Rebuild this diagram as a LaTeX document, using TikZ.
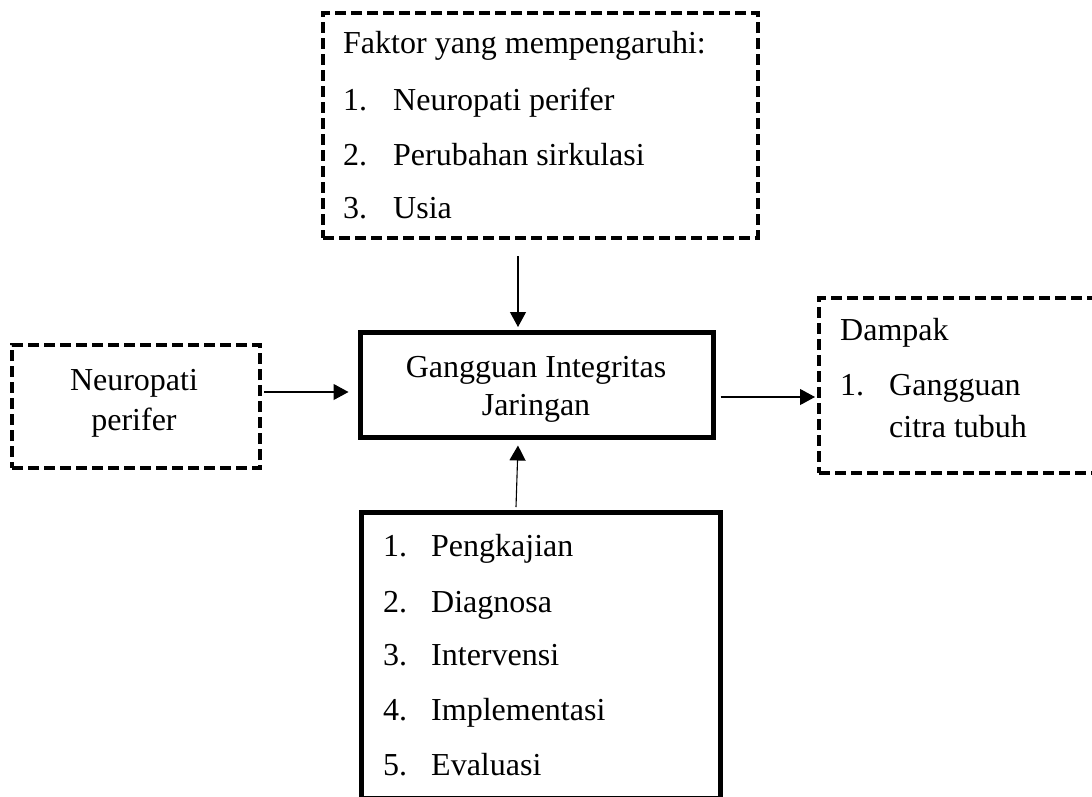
\documentclass[tikz,border=0pt]{standalone}
\usepackage{fontspec}
\setmainfont{Liberation Serif}
\usetikzlibrary{arrows.meta,calc}
\tikzset{
  dbox/.style={draw=black, line width=4pt, dash pattern=on 11pt off 5pt, rectangle, inner sep=0pt},
  sbox/.style={draw=black, line width=5pt, rectangle, inner sep=0pt},
  txt/.style={inner sep=0pt, anchor=base west, font=\fontsize{32}{40}\selectfont},
  ctxt/.style={inner sep=0pt, anchor=base, font=\fontsize{32}{40}\selectfont},
  arr/.style={draw=black, line width=1.1pt, -{Triangle[length=15pt,width=16pt]}}
}
\begin{document}
\begin{tikzpicture}[x=1pt,y=-1pt]
\useasboundingbox (0,0) rectangle (1092,796);
\clip (0,0) rectangle (1092,796);
% boxes
\node[dbox, minimum width=435pt, minimum height=225pt] (topbox) at (540.5,125.5) {};
\node[dbox, minimum width=248pt, minimum height=123pt] (leftbox) at (136,406.5) {};
\node[sbox, minimum width=353pt, minimum height=105pt] (center) at (536.5,384.5) {};
\node[dbox, minimum width=276pt, minimum height=175pt] (rightbox) at (957,385.5) {};
\node[sbox, minimum width=359pt, minimum height=286pt] (bottombox) at (540.5,655) {};
% top box text
\node[txt] (f0) at (343,53) {Faktor yang mempengaruhi:};
\node[txt] (f1n) at (343,110) {1.};
\node[txt] (f1) at (393,110) {Neuropati perifer};
\node[txt] (f2n) at (343,165) {2.};
\node[txt] (f2) at (393,165) {Perubahan sirkulasi};
\node[txt] (f3n) at (343,218) {3.};
\node[txt] (f3) at (393,218) {Usia};
% left box text
\node[ctxt] (l1) at (134,390) {Neuropati};
\node[ctxt] (l2) at (134,430) {perifer};
% center text
\node[ctxt] (c1) at (536,377) {Gangguan Integritas};
\node[ctxt] (c2) at (536,415) {Jaringan};
% right box text
\node[txt] (d0) at (840,340) {Dampak};
\node[txt] (d1n) at (840,395) {1.};
\node[txt] (d1) at (889,395) {Gangguan};
\node[txt] (d2) at (889,437) {citra tubuh};
% bottom box text
\node[txt] (b1n) at (383,556) {1.};
\node[txt] (b1) at (431,556) {Pengkajian};
\node[txt] (b2n) at (383,612) {2.};
\node[txt] (b2) at (431,612) {Diagnosa};
\node[txt] (b3n) at (383,665) {3.};
\node[txt] (b3) at (431,665) {Intervensi};
\node[txt] (b4n) at (383,720) {4.};
\node[txt] (b4) at (431,720) {Implementasi};
\node[txt] (b5n) at (383,775) {5.};
\node[txt] (b5) at (431,775) {Evaluasi};
% connectors
\draw[arr] ($(topbox.south)+(-22.5,16)$) -- ($(center.north)+(-18.5,-2.5)$);
\draw[arr] ($(leftbox.east)+(2,-14.5)$) -- ($(center.west)+(-9,7.5)$);
\draw[arr] ($(center.east)+(5,12.5)$) -- ($(rightbox.west)+(-2,11.5)$);
\draw[arr] ($(bottombox.north)+(-24.5,-2.5)$) -- ($(center.south)+(-18.5,6)$);
\end{tikzpicture}
\end{document}
